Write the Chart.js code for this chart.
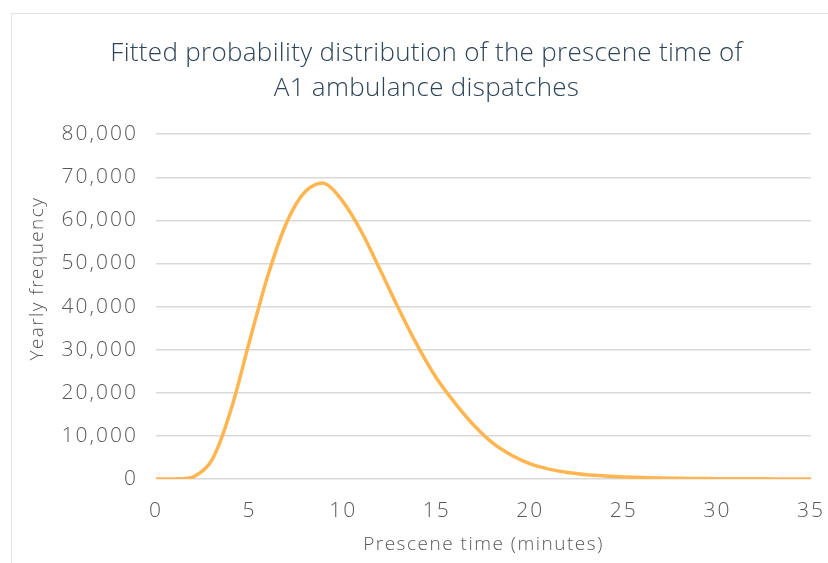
<!DOCTYPE html>
<html>
<head>
<meta charset="utf-8">
<script src="https://cdn.jsdelivr.net/npm/chart.js@4/dist/chart.umd.min.js"></script>
<style>
  body { margin: 0; background: #fff; }
  #wrap { position: relative; width: 828px; height: 563px; }
  #frame {
    position: absolute; left: 11px; top: 13px; right: 0; bottom: 0;
    border-left: 1px solid #e3e3e3; border-top: 1px solid #e3e3e3;
  }
  #chart { position: absolute; left: 0; top: 0; }
</style>
</head>
<body>
<div id="wrap">
  <div id="frame"></div>
  <canvas id="chart" width="828" height="563"></canvas>
</div>
<script>
let title_lines = [
  "Fitted probability distribution of the prescene time of",
  "A1 ambulance dispatches",
];
let x_title = "Prescene time (minutes)";
let y_title = "Yearly frequency";

// minutes
let minutes = [
  0, 1, 2, 3, 4, 5, 6, 7, 8, 9, 10, 11, 12, 13, 14, 15, 16, 17, 18, 19, 20,
  21, 22, 23, 24, 25, 26, 27, 28, 29, 30, 31, 32, 33, 34, 35,
];
let frequency = [
  0, 0, 500, 4500, 16000, 32000, 47500, 59700, 66800, 68600, 64300, 57200,
  48300, 39200, 30700, 23300, 17500, 12400, 8300, 5500, 3500, 2300, 1500, 1000,
  700, 480, 330, 230, 160, 110, 75, 50, 35, 25, 15, 10,
];

let x_min = 0;
let x_max = 35;
let x_step = 5;
let y_min = 0;
let y_max = 80000;
let y_step = 10000;

let font_family = "'Open Sans', sans-serif";
let line_color = "#ffb550";
let label_color = "#595959";
let title_color = "#2e4457";
let grid_color = "#d9d9d9";

let points = [];
for (let i = 0; i < minutes.length; i++) {
  points.push({ x: minutes[i], y: frequency[i] });
}

// draw a text method with wider letters (the original font runs wide)
function spaced(obj, name, spacing, dy) {
  let orig = obj[name];
  obj[name] = function (...args) {
    let ctx = this.ctx;
    ctx.save();
    ctx.letterSpacing = spacing;
    if (dy) {
      ctx.translate(0, dy);
    }
    orig.apply(this, args);
    ctx.restore();
  };
}

let textTweaks = {
  id: "textTweaks",
  afterLayout(chart) {
    if (chart.titleBlock) {
      // the title sits a bit right of the middle of the canvas
      chart.titleBlock.left += 8;
      chart.titleBlock.right += 8;
    }
    if (chart._spaced) {
      return;
    }
    chart._spaced = true;
    spaced(chart.titleBlock, "draw", "0.3px");
    spaced(chart.scales.x, "drawLabels", "2px");
    spaced(chart.scales.y, "drawLabels", "2px");
    spaced(chart.scales.x, "drawTitle", "1.5px");
    spaced(chart.scales.y, "drawTitle", "1.4px", -28);
  },
};

let config = {
  type: "line",
  data: {
    datasets: [
      {
        data: points,
        borderColor: line_color,
        borderWidth: 3.5,
        pointRadius: 0,
        fill: false,
        tension: 0.33,
      },
    ],
  },
  options: {
    responsive: false,
    animation: false,
    layout: { padding: { left: 10, right: 1, top: 0, bottom: 0 } },
    plugins: {
      legend: { display: false },
      tooltip: { enabled: false },
      title: {
        display: true,
        text: title_lines,
        color: title_color,
        font: { family: font_family, size: 26, weight: 300, lineHeight: 1.35 },
        padding: { top: 36, bottom: 28 },
      },
    },
    scales: {
      x: {
        type: "linear",
        min: x_min,
        max: x_max,
        afterFit: (scale) => {
          scale.height = 84;
          scale.paddingRight = 17;
        },
        ticks: {
          stepSize: x_step,
          color: label_color,
          padding: 11,
          font: { family: font_family, size: 21, weight: 300 },
        },
        grid: { display: false },
        border: { display: false },
        title: {
          display: true,
          text: x_title,
          color: label_color,
          font: { family: font_family, size: 19, weight: 300 },
          padding: { top: 0, bottom: 7 },
        },
      },
      y: {
        min: y_min,
        max: y_max,
        afterFit: (scale) => {
          scale.width = 146;
        },
        ticks: {
          stepSize: y_step,
          color: label_color,
          padding: 18,
          font: { family: font_family, size: 21, weight: 300 },
          callback: (v) => v.toLocaleString("en-US"),
        },
        grid: { color: grid_color, lineWidth: 1.5, drawTicks: false },
        border: { display: false },
        title: {
          display: true,
          text: y_title,
          color: label_color,
          font: { family: font_family, size: 19, weight: 300 },
          padding: { top: 16, bottom: 0 },
        },
      },
    },
  },
  plugins: [textTweaks],
};

let chart = new Chart(document.getElementById("chart"), config);
</script>
</body>
</html>
